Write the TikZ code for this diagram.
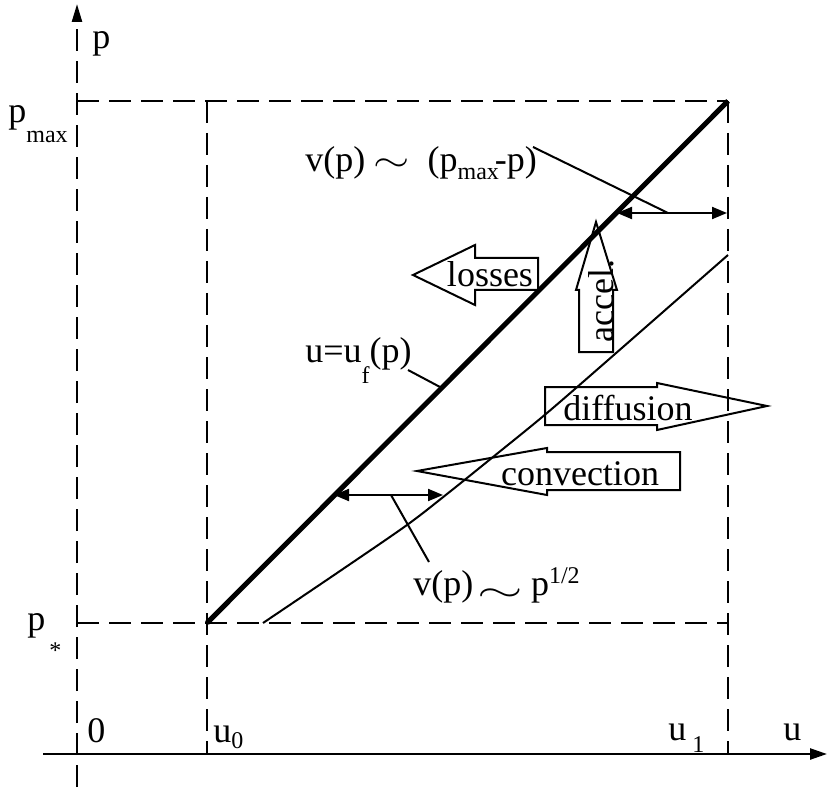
\documentclass[tikz,border=0pt]{standalone}
\usepackage{fontspec}
\setmainfont{Liberation Serif}
\usepackage{graphicx}
\usetikzlibrary{arrows.meta}
\tikzset{every picture/.style={x=0.5pt, y=-0.5pt}}
\tikzset{
  guide/.style={line width=1.2pt, dash pattern=on 11pt off 5pt},
  thin/.style={line width=1pt},
  gap/.style={line width=1pt, {Triangle[length=7.5pt,width=6pt]}-{Triangle[length=7.5pt,width=6pt]}},
  block/.style={line width=1pt, line join=miter},
  lbl/.style={inner sep=0pt, anchor=base west, font=\fontsize{18}{20}\selectfont},
  word/.style={inner sep=0pt, anchor=base, font=\fontsize{18}{20}\selectfont},
}
\newcommand{\lowtext}[2][10pt]{\raisebox{-#1}{\fontsize{12}{14}\selectfont #2}}
\newcommand{\hightext}[2][6pt]{\raisebox{#1}{\fontsize{12}{14}\selectfont #2}}

\begin{document}
\begin{tikzpicture}
      \useasboundingbox (0,0) rectangle (830,791);
      \def\ua{77}
      \def\ub{207}
      \def\uc{728}
      \def\pa{754}
      \def\pb{623}
      \def\pc{101}

      % Points
      \coordinate (uleft) at (43,\pa);
      \coordinate (uright) at (827,\pa);
      \coordinate (pbottom) at (\ua,787);
      \coordinate (ptop) at (\ua,4);
      \coordinate (fstart) at (\ub,\pb);
      \coordinate (fend) at (\uc,\pc);
      \coordinate (lowl) at (334,495);
      \coordinate (lowr) at (443,495);
      \coordinate (lowm) at (391,495);
      \coordinate (lowt) at (429,562);
      \coordinate (upl) at (617,213);
      \coordinate (upr) at (727,213);
      \coordinate (upm) at (668,213);
      \coordinate (upt) at (533,147);
      \coordinate (fon) at (440,387);
      \coordinate (ft) at (408,370);

      % Axes
      \draw[line width=1.2pt, -{Triangle[length=8.5pt,width=5.5pt]}] (uleft) -- (uright);
      \draw[guide, -{Triangle[length=9pt,width=5pt]}] (pbottom) -- (ptop);

      % Guides
      \draw[guide] (\ua,\pc) -- (\uc,\pc);
      \draw[guide] (\ua,\pb) -- (\uc,\pb);
      \draw[guide] (\ub,\pc) -- (\ub,\pa);
      \draw[guide] (\uc,\pc) -- (\uc,\pa);

      % Curves
      \draw[line width=2.5pt] (fstart) -- (fend);
      \draw[thin] plot[smooth] coordinates {(263,623) (340,571) (407,525) (447,494) (493,457) (547,413) (615,354) (728,255)};

      % Widths
      \draw[gap] (lowl) -- (lowr);
      \draw[gap] (upl) -- (upr);
      \draw[thin] (lowm) -- (lowt);
      \draw[thin] (upm) -- (upt);
      \draw[thin] (fon) -- (ft);

      % Block arrows
      \draw[block] (538,258) -- (475,258) -- (475,245) -- (413,275) -- (475,305) -- (475,290) -- (538,290) -- cycle;
      \draw[block] (579,352) -- (579,290) -- (576,290) -- (596,222) -- (617,290) -- (613,290) -- (613,352) -- cycle;
      \draw[block] (545,387) -- (657,387) -- (657,383) -- (767,406) -- (657,430) -- (657,425) -- (545,425) -- cycle;
      \draw[block] (680,452) -- (547,452) -- (547,448) -- (417,471) -- (547,495) -- (547,490) -- (680,490) -- cycle;
      \node[word] (losses) at (490,287) {losses};
      \node[word, rotate=90] (accel) at (613,301) {accel.};
      \node[word] (diffusion) at (628,420) {diffusion};
      \node[word] (convection) at (580,485) {convection};

      % Labels
      \node[lbl] (plabel) at (92,49) {p};
      \node[lbl] (pmaxlabel) at (8,123) {p\lowtext{max}};
      \node[lbl] (pstarlabel) at (27,630) {p\hspace{2pt}\lowtext[14pt]{*}};
      \node[lbl] (zerolabel) at (87,742) {0};
      \node[lbl] (uzerolabel) at (213,742) {u\lowtext[3pt]{0}};
      \node[lbl] (uonelabel) at (668,740) {u\hspace{3pt}\lowtext[6pt]{1}};
      \node[lbl] (ulabel) at (783,740) {u};
      \node[lbl] (uflabel) at (305,363) {u=u\lowtext{f}(p)};
      \node[lbl] (uplabel) at (305,172) {v(p)\hspace{4pt}\scalebox{1.35}[1]{$\sim$}\hspace{9pt}(p\lowtext[4pt]{max}\kern-2pt-p)};
      \node[lbl] (lowlabel) at (413,595) {v(p)\hspace{2pt}\raisebox{-3pt}{\scalebox{1.7}[1]{$\sim$}}\hspace{4pt}p\hightext{1/2}};
\end{tikzpicture}
\end{document}
